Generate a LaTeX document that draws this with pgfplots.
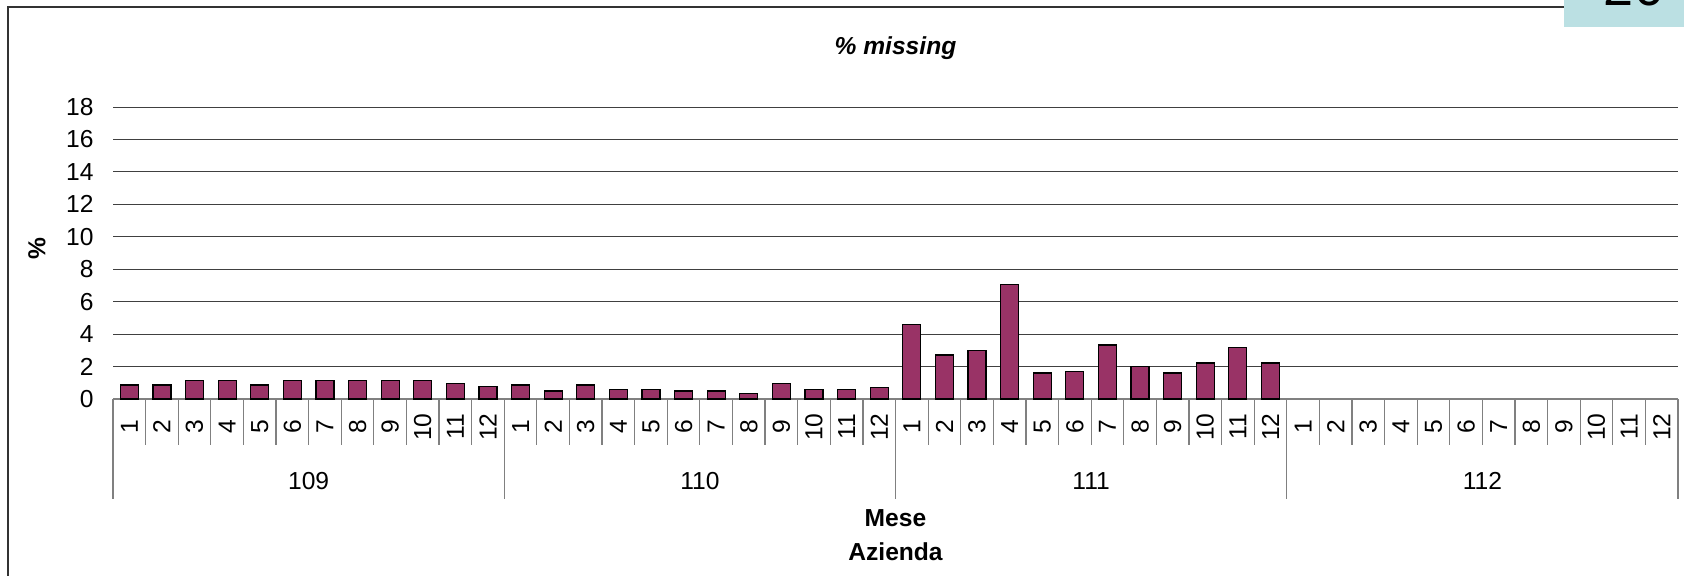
\documentclass[border=0pt]{standalone}
\usepackage{pgfplots}
\pgfplotsset{compat=1.18}
\usepackage{fontspec}
\setmainfont{Liberation Sans}
\definecolor{barc}{RGB}{153,51,102}
\definecolor{boxc}{RGB}{187,224,227}
\definecolor{sepc}{RGB}{128,128,128}
\newcommand{\lbl}{\fontsize{12.3}{14}\selectfont}
\begin{document}
\begin{tikzpicture}
\useasboundingbox (0,0) rectangle (842pt,-287.5pt);
\draw[black!80, line width=0.75pt] (4pt,-3.5pt) rectangle (880pt,-320pt);
\fill[boxc] (782pt,1pt) rectangle (850pt,-13.5pt);
\node[anchor=base, font=\fontsize{27}{30}\selectfont, inner sep=0pt] at (817pt,-2.5pt) {20};
\begin{axis}[
  at={(56.5pt,-199.5pt)}, anchor=south west,
  scale only axis, width=782.5pt, height=146pt,
  xmin=0.5, xmax=48.5, ymin=0, ymax=18,
  ytick={0,2,...,18},
  xtick={1,...,48},
  xticklabels={1,2,3,4,5,6,7,8,9,10,11,12,1,2,3,4,5,6,7,8,9,10,11,12,1,2,3,4,5,6,7,8,9,10,11,12,1,2,3,4,5,6,7,8,9,10,11,12},
  major tick length=0pt,
  ymajorgrids, grid style={black!75, line width=0.5pt},
  axis x line*=bottom, axis y line*=left,
  x axis line style={sepc, line width=0.6pt},
  y axis line style={draw=none},
  /pgf/number format/assume math mode=true,
  tick label style={font=\lbl},
  yticklabel style={anchor=east, inner sep=0pt, xshift=-9.5pt},
  xticklabel style={yshift=-14pt, rotate=90, anchor=center, inner sep=0pt},
  clip=false,
  ybar, bar width=9pt,
]
\addplot[fill=barc, draw=black, line width=0.6pt] coordinates {
(1,0.86) (2,0.86) (3,1.12) (4,1.12) (5,0.86) (6,1.12) (7,1.12) (8,1.12) (9,1.12) (10,1.12) (11,0.98) (12,0.75)
(13,0.86) (14,0.49) (15,0.86) (16,0.61) (17,0.61) (18,0.49) (19,0.49) (20,0.35) (21,0.98) (22,0.61) (23,0.61) (24,0.73)
(25,4.58) (26,2.71) (27,2.98) (28,7.04) (29,1.60) (30,1.72) (31,3.33) (32,1.99) (33,1.60) (34,2.22) (35,3.20) (36,2.22)
};
\pgfplotsinvokeforeach{1,...,47}{
  \draw[sepc, line width=0.6pt] (axis cs:#1+0.5,0) -- ++(0pt,-23pt);
}
\pgfplotsinvokeforeach{0.5,12.5,24.5,36.5,48.5}{
  \draw[sepc, line width=0.6pt] (axis cs:#1,0) -- ++(0pt,-50pt);
}
\node[font=\lbl, yshift=-41pt] at (axis cs:6.5,0) {109};
\node[font=\lbl, yshift=-41pt] at (axis cs:18.5,0) {110};
\node[font=\lbl, yshift=-41pt] at (axis cs:30.5,0) {111};
\node[font=\lbl, yshift=-41pt] at (axis cs:42.5,0) {112};
\node[font=\lbl\bfseries, yshift=-59.5pt] at (axis cs:24.5,0) {Mese};
\node[font=\lbl\bfseries, yshift=-76.5pt] at (axis cs:24.5,0) {Azienda};
\node[font=\lbl\bfseries\itshape, yshift=29.5pt] at (axis cs:24.5,18) {\% missing};
\node[font=\lbl\bfseries, xshift=-38pt, rotate=90] at (axis cs:0.5,9.3) {\%};
\end{axis}
\end{tikzpicture}
\end{document}
